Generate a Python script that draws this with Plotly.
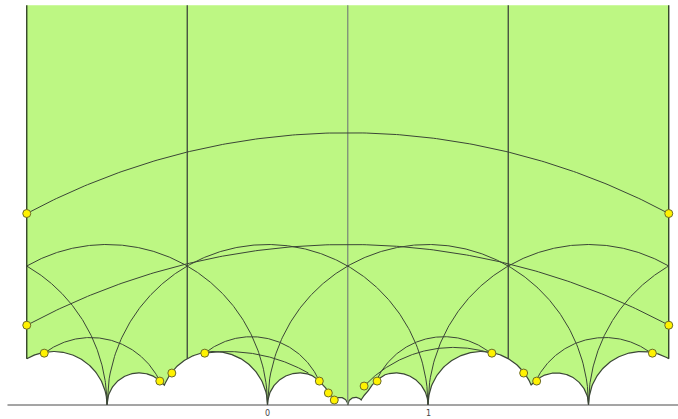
import numpy as np
import plotly.graph_objects as go

# ---------------- data (upper half-plane coordinates) ----------------
x_left, x_right, y_top = -1.5, 2.5, 2.49
vertical_x = [-1.5, -0.5, 0.5, 1.5, 2.5]
unit_centers = [-2, -1, 0, 1, 2, 3]

# bottom boundary pieces: (center, radius, x_from, x_to)
boundary_circles = [
    (-4/3, 1/3, -1.5, -1.0),
    (-0.8, 0.2, -1.0, -0.643),
    (-1/3, 1/3, -0.643, 0.0),
    (0.2, 0.2, 0.0, 0.26),
]
# geodesic chain down to the cusp at 1/2 (left half; mirrored about x=1/2)
boundary_chain = [(0.26, 0.192), (0.323, 0.149), (0.379, 0.075), (0.416, 0.031), (0.5, 0.0)]

# arcs given by three points (start, middle, end)
big_arcs = [
    [(-1.5, 1.193), (0.5, 1.696), (2.5, 1.193)],
    [(-1.5, 0.497), (0.5, 1.0), (2.5, 0.497)],
]
mid_arcs = [
    [(-1.391, 0.323), (-1.037, 0.416), (-0.671, 0.149)],
    [(-0.391, 0.323), (-0.043, 0.422), (0.323, 0.149)],
    [(0.677, 0.149), (1.043, 0.422), (1.391, 0.323)],
    [(1.671, 0.149), (2.037, 0.416), (2.391, 0.323)],
    [(-0.391, 0.323), (-0.106, 0.323), (0.255, 0.199)],
    [(0.602, 0.118), (1.0, 0.342), (1.391, 0.323)],
]

yellow_x = [-1.5, -1.5, 2.5, 2.5, -1.391, -0.671, -0.596, -0.391, 0.323, 0.379, 0.416,
            0.602, 0.683, 1.398, 1.596, 1.677, 2.398]
yellow_y = [1.193, 0.497, 1.193, 0.497, 0.323, 0.149, 0.199, 0.323, 0.149, 0.075, 0.031,
            0.118, 0.149, 0.323, 0.199, 0.149, 0.323]

tick_vals = [0, 1]
tick_text = ["0", "1"]

# ---------------- helpers ----------------
def circ_pts(c, r, xa, xb, n=120):
    xs = np.linspace(xa, xb, n)
    ys = np.sqrt(np.clip(r * r - (xs - c) ** 2, 0, None))
    return list(xs), list(ys)

def geodesic(p, q, n=40):
    (x1, y1), (x2, y2) = p, q
    c = ((x2**2 + y2**2) - (x1**2 + y1**2)) / (2 * (x2 - x1))
    r = np.hypot(x1 - c, y1)
    return circ_pts(c, r, x1, x2, n)

def arc3(p1, p2, p3, n=200):
    (ax, ay), (bx, by), (cx, cy) = p1, p2, p3
    d = 2 * (ax * (by - cy) + bx * (cy - ay) + cx * (ay - by))
    ux = ((ax**2 + ay**2) * (by - cy) + (bx**2 + by**2) * (cy - ay) + (cx**2 + cy**2) * (ay - by)) / d
    uy = ((ax**2 + ay**2) * (cx - bx) + (bx**2 + by**2) * (ax - cx) + (cx**2 + cy**2) * (bx - ax)) / d
    r = np.hypot(ax - ux, ay - uy)
    a1 = np.arctan2(ay - uy, ax - ux)
    a2 = np.arctan2(by - uy, bx - ux)
    a3 = np.arctan2(cy - uy, cx - ux)
    def norm(a):
        return a % (2 * np.pi)
    ccw_len = norm(a3 - a1)
    if norm(a2 - a1) <= ccw_len:
        t = a1 + np.linspace(0, ccw_len, n)
    else:
        t = a1 - np.linspace(0, 2 * np.pi - ccw_len, n)
    return list(ux + r * np.cos(t)), list(uy + r * np.sin(t))

# boundary (left half then mirrored)
bx, by = [], []
for c, r, xa, xb in boundary_circles:
    xs, ys = circ_pts(c, r, xa, xb)
    bx += xs; by += ys
for i in range(len(boundary_chain) - 1):
    xs, ys = geodesic(boundary_chain[i], boundary_chain[i + 1])
    bx += xs; by += ys
mx = [1 - v for v in bx[::-1]]
my = by[::-1]
bx_full = bx + mx
by_full = by + my

def boundary_height(x):
    order = np.argsort(bx_full)
    return float(np.interp(x, np.array(bx_full)[order], np.array(by_full)[order]))

line_col = "#3b4636"
fig = go.Figure()

# green domain
fx = [x_left] + bx_full + [x_right, x_right, x_left, x_left]
fy = [y_top] + by_full + [boundary_height(x_right), y_top, y_top, y_top]
fig.add_trace(go.Scatter(x=fx, y=fy, fill="toself", fillcolor="#bdf783",
                         line=dict(width=0), mode="lines", hoverinfo="skip"))

# boundary outline
fig.add_trace(go.Scatter(x=bx_full, y=by_full, mode="lines",
                         line=dict(color=line_col, width=1.2), hoverinfo="skip"))

# vertical lines
vcols = {-1.5: "#26361c", -0.5: "#3f453c", 0.5: "#7d8c78", 1.5: "#3f453c", 2.5: "#26361c"}
for vx in vertical_x:
    fig.add_trace(go.Scatter(x=[vx, vx], y=[boundary_height(vx), y_top], mode="lines",
                             line=dict(color=vcols[vx], width=1.3), hoverinfo="skip"))

# unit circles |z - n| = 1
for n in unit_centers:
    xa, xb = max(n - 1, x_left), min(n + 1, x_right)
    xs, ys = circ_pts(n, 1.0, xa, xb, 300)
    fig.add_trace(go.Scatter(x=xs, y=ys, mode="lines",
                             line=dict(color=line_col, width=1), hoverinfo="skip"))

for arc in big_arcs + mid_arcs:
    xs, ys = arc3(*arc)
    fig.add_trace(go.Scatter(x=xs, y=ys, mode="lines",
                             line=dict(color=line_col, width=1), hoverinfo="skip"))

# real axis
fig.add_trace(go.Scatter(x=[-1.62, 2.6], y=[0, 0], mode="lines",
                         line=dict(color="#4a4a4a", width=1), hoverinfo="skip"))

# yellow points
fig.add_trace(go.Scatter(x=yellow_x, y=yellow_y, mode="markers",
                         marker=dict(size=8, color="#fff200", line=dict(color="#6b6a2a", width=1)),
                         hoverinfo="skip"))

for v, t in zip(tick_vals, tick_text):
    fig.add_annotation(x=v, y=-0.05, text=t, showarrow=False,
                       font=dict(size=8, color="#444444", family="DejaVu Sans"))

px_per_unit = 160.5
origin_px, axis_py = 267.5, 405.0
fig.update_layout(
    width=678, height=419, margin=dict(l=0, r=0, t=0, b=0),
    paper_bgcolor="white", plot_bgcolor="white", showlegend=False,
    hovermode=False,
    xaxis=dict(range=[-origin_px / px_per_unit, (678 - origin_px) / px_per_unit],
               visible=False, fixedrange=True),
    yaxis=dict(range=[(axis_py - 419) / px_per_unit, axis_py / px_per_unit],
               visible=False, fixedrange=True),
)
fig.write_html("out.html", config={"displayModeBar": False, "staticPlot": True},
               post_script="document.body.style.margin='0';")
